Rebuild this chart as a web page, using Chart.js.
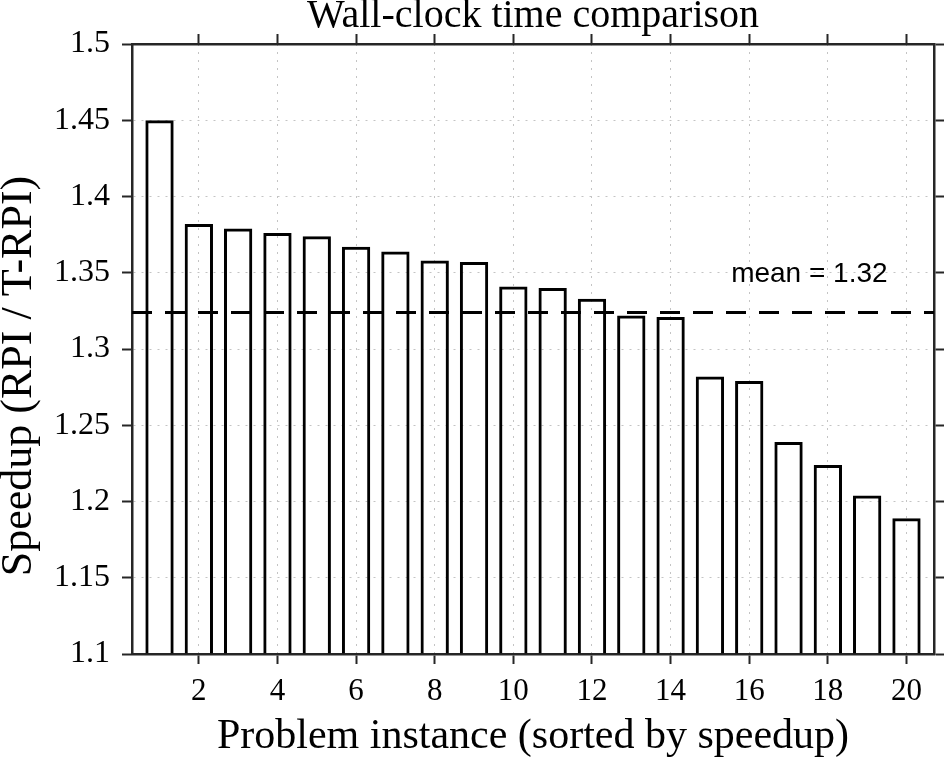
<!DOCTYPE html>
<html>
<head>
<meta charset="utf-8">
<script src="https://cdn.jsdelivr.net/npm/chart.js@4.4.1/dist/chart.umd.min.js"></script>
<style>
  html, body { margin: 0; padding: 0; background: #ffffff; }
  canvas { display: block; background: #ffffff; }
</style>
</head>
<body>
<canvas id="chart" width="946" height="760"></canvas>
<script>
// ---- data ----
const instances = [1, 2, 3, 4, 5, 6, 7, 8, 9, 10, 11, 12, 13, 14, 15, 16, 17, 18, 19, 20];
const speedup = [1.450, 1.382, 1.379, 1.376, 1.374, 1.367, 1.364, 1.358, 1.357, 1.341,
                 1.340, 1.333, 1.322, 1.321, 1.282, 1.279, 1.239, 1.224, 1.204, 1.189];
const meanSpeedup = 1.324;
const meanLabel = 'mean = 1.32';
const meanLabelAt = [15.54, 1.3441];
const xTickValues = [2, 4, 6, 8, 10, 12, 14, 16, 18, 20];
const xTickLabels = ['2', '4', '6', '8', '10', '12', '14', '16', '18', '20'];
const yTickValues = [1.1, 1.15, 1.2, 1.25, 1.3, 1.35, 1.4, 1.45, 1.5];
const yTickLabels = ['1.1', '1.15', '1.2', '1.25', '1.3', '1.35', '1.4', '1.45', '1.5'];
const xRange = [0.3, 20.7];
const yRange = [1.1, 1.5];
const titleText = 'Wall-clock time comparison';
const xTitle = 'Problem instance (sorted by speedup)';
const yTitle = 'Speedup (RPI / T-RPI)';

// ---- styling ----
const SERIF = "'Liberation Serif', 'Times New Roman', serif";
const SANS = "'Liberation Sans', Arial, sans-serif";
const AXIS = '#262626';
const GRID = '#c4c4c4';

const barPoints = instances.map((x, i) => ({ x: x, y: speedup[i] }));
const meanPoints = [{ x: xRange[0], y: meanSpeedup }, { x: xRange[1], y: meanSpeedup }];

function setTicks(values) {
  return function (scale) { scale.ticks = values.map(v => ({ value: v })); };
}

const labelsPlugin = {
  id: 'extraLabels',
  afterDatasetsDraw(chart) {
    const ctx = chart.ctx;
    const xs = chart.scales.x, ys = chart.scales.y;
    ctx.save();
    ctx.font = '28px ' + SANS;
    ctx.fillStyle = '#000000';
    ctx.textAlign = 'left';
    ctx.textBaseline = 'alphabetic';
    ctx.fillText(meanLabel, xs.getPixelForValue(meanLabelAt[0]), ys.getPixelForValue(meanLabelAt[1]));
    ctx.restore();
  },
  afterDraw(chart) {
    const ctx = chart.ctx;
    const area = chart.chartArea;
    ctx.save();
    ctx.translate(19, (area.top + area.bottom) / 2 + 27);
    ctx.rotate(-Math.PI / 2);
    ctx.font = '44px ' + SERIF;
    ctx.fillStyle = '#000000';
    ctx.textAlign = 'center';
    ctx.textBaseline = 'middle';
    ctx.fillText(yTitle, 0, 0);
    ctx.restore();
  }
};

new Chart(document.getElementById('chart'), {
  type: 'bar',
  data: {
    datasets: [
      {
        type: 'line',
        data: meanPoints,
        borderColor: '#000000',
        borderWidth: 3,
        borderDash: [20, 13],
        pointRadius: 0,
        fill: false,
        order: 0
      },
      {
        type: 'bar',
        data: barPoints,
        base: yRange[0],
        backgroundColor: 'rgba(255,255,255,0)',
        borderColor: '#000000',
        borderWidth: 3,
        categoryPercentage: 1.0,
        barPercentage: 0.72,
        order: 1
      }
    ]
  },
  options: {
    responsive: false,
    animation: false,
    layout: { padding: 0 },
    plugins: {
      legend: { display: false },
      tooltip: { enabled: false },
      title: { display: false }
    },
    scales: {
      x: {
        type: 'linear',
        position: 'bottom',
        offset: false,
        min: xRange[0],
        max: xRange[1],
        afterBuildTicks: setTicks(xTickValues),
        afterFit(scale) { scale.height = 106; },
        ticks: {
          color: '#000000',
          font: { family: SERIF, size: 31 },
          padding: 9,
          maxRotation: 0,
          autoSkip: false,
          callback: (v, i) => xTickLabels[i]
        },
        grid: {
          offset: false,
          color: GRID, lineWidth: 1,
          tickColor: AXIS, tickWidth: 2, tickLength: 10
        },
        border: { display: true, color: AXIS, width: 2.5, dash: [2, 6] },
        title: {
          display: true, text: xTitle, color: '#000000',
          font: { family: SERIF, size: 42, lineHeight: 1.1 },
          padding: { top: 0, bottom: 0 }
        }
      },
      x2: {
        type: 'linear',
        position: 'top',
        offset: false,
        min: xRange[0],
        max: xRange[1],
        afterBuildTicks: setTicks(xTickValues),
        afterFit(scale) { scale.height = 44; },
        ticks: { display: false },
        grid: { offset: false, drawOnChartArea: false, tickColor: AXIS, tickWidth: 2, tickLength: 10 },
        border: { display: true, color: AXIS, width: 2.5 },
        title: {
          display: true, text: titleText, color: '#000000',
          font: { family: SERIF, size: 40, lineHeight: 0.8 },
          padding: { top: 0, bottom: 0 }
        }
      },
      y: {
        type: 'linear',
        position: 'left',
        min: yRange[0],
        max: yRange[1],
        afterBuildTicks: setTicks(yTickValues),
        afterFit(scale) { scale.width = 132; },
        ticks: {
          color: '#000000',
          font: { family: SERIF, size: 32 },
          padding: 12,
          autoSkip: false,
          callback: (v, i) => yTickLabels[i]
        },
        grid: {
          color: GRID, lineWidth: 1,
          tickColor: AXIS, tickWidth: 2, tickLength: 10
        },
        border: { display: true, color: AXIS, width: 2.5, dash: [2, 6] },
        title: { display: false }
      },
      y2: {
        type: 'linear',
        position: 'right',
        min: yRange[0],
        max: yRange[1],
        afterBuildTicks: setTicks(yTickValues),
        afterFit(scale) { scale.width = 12; },
        ticks: { display: false },
        grid: { drawOnChartArea: false, tickColor: AXIS, tickWidth: 2, tickLength: 10 },
        border: { display: true, color: AXIS, width: 2.5 }
      }
    }
  },
  plugins: [labelsPlugin]
});
</script>
</body>
</html>
